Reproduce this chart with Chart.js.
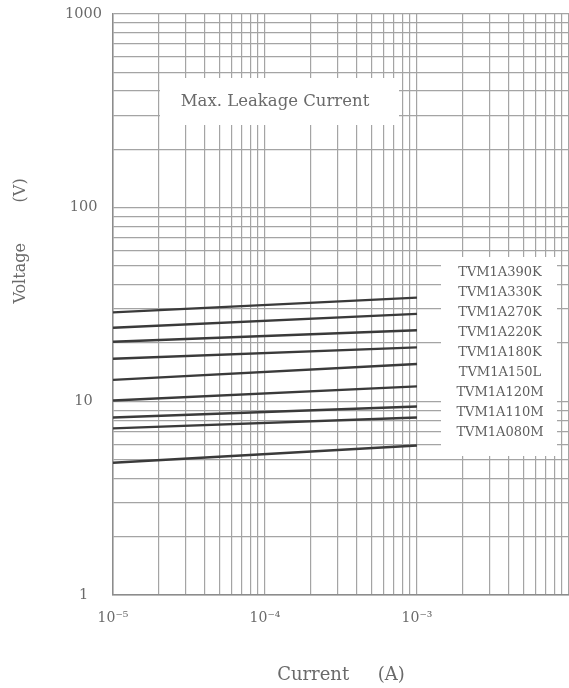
<!DOCTYPE html>
<html><head><meta charset="utf-8">
<script src="https://cdn.jsdelivr.net/npm/chart.js@4.4.0/dist/chart.umd.min.js"></script>
<style>html,body{margin:0;padding:0;background:#fff;overflow:hidden}</style>
</head><body>
<canvas id="c" width="569" height="688" style="display:block;width:569px;height:688px"></canvas>
<script>
// ---- data ----
const seriesNames = ['TVM1A390K','TVM1A330K','TVM1A270K','TVM1A220K','TVM1A180K','TVM1A150L','TVM1A120M','TVM1A110M','TVM1A080M'];
const currentA = [1e-5, 1e-3];          // x values (A) of each line's endpoints
const v390K = [28.8, 34.3];
const v330K = [24.0, 28.3];
const v270K = [20.3, 23.3];
const v220K = [16.6, 19.0];
const v180K = [12.9, 15.6];
const v150L = [10.1, 11.95];
const v120M = [8.25, 9.4];
const v110M = [7.25, 8.25];
const v080M = [4.82, 5.92];
const seriesValues = [v390K, v330K, v270K, v220K, v180K, v150L, v120M, v110M, v080M];
const xTickLabels = ['10\u207B\u2075', '10\u207B\u2074', '10\u207B\u00B3'];  // 1e-5, 1e-4, 1e-3
const xDecades = [1e-5, 1e-4, 1e-3];
const yTickLabels = ['1', '10', '100', '1000'];
const yDecades = [1, 10, 100, 1000];
const chartTitle = 'Max. Leakage Current';
const xTitle = 'Current     (A)';
const yTitle = 'Voltage        (V)';

function logTicks(minExp, maxExp) {
  const t = [];
  for (let e = minExp; e < maxExp; e++) {
    for (let m = 1; m <= 9; m++) t.push({value: m * Math.pow(10, e)});
  }
  t.push({value: Math.pow(10, maxExp)});
  return t;
}
function near(a, b) { return Math.abs(Math.log10(a) - Math.log10(b)) < 1e-6; }

const FONT = "'DejaVu Serif', 'Liberation Serif', serif";
const TEXT = '#6a6a6a';
const GRID = '#a4a4a4';

const datasets = seriesNames.map((name, i) => ({
  label: name,
  data: currentA.map((x, j) => ({x: x, y: seriesValues[i][j]})),
  showLine: true,
  borderColor: '#3a3a3a',
  borderWidth: 2.4,
  pointRadius: 0,
  fill: false
}));

const overlay = {
  id: 'overlay',
  beforeDatasetsDraw(chart) {
    const ctx = chart.ctx;
    ctx.save();
    ctx.fillStyle = '#ffffff';
    ctx.fillRect(160, 78, 239, 47);
    ctx.fillRect(441, 257, 116, 199);
    ctx.restore();
  },
  afterDatasetsDraw(chart) {
    const ctx = chart.ctx;
    ctx.save();
    ctx.fillStyle = TEXT;
    ctx.textAlign = 'center';
    ctx.textBaseline = 'middle';
    ctx.font = '16.5px ' + FONT;
    ctx.fillText(chartTitle, 275, 102);
    ctx.font = '13px ' + FONT;
    ctx.fillStyle = '#5e5e5e';
    seriesNames.forEach((n, i) => ctx.fillText(n, 500, 273 + 20 * i));
    // y axis title
    ctx.fillStyle = TEXT;
    ctx.font = '16px ' + FONT;
    ctx.translate(21, 241);
    ctx.rotate(-Math.PI / 2);
    ctx.fillText(yTitle, 0, 0);
    ctx.restore();
  }
};

new Chart(document.getElementById('c'), {
  type: 'scatter',
  data: {datasets},
  options: {
    responsive: false,
    animation: false,
    devicePixelRatio: 1,
    layout: {padding: {top: 14, right: 0, bottom: 0, left: 0}},
    plugins: {legend: {display: false}, tooltip: {enabled: false}},
    scales: {
      x: {
        type: 'logarithmic',
        min: 1e-5, max: 1e-2,
        afterBuildTicks: s => { s.ticks = logTicks(-5, -2); },
        afterFit: s => { s.height = 93; s.paddingLeft = 0; s.paddingRight = 0; },
        grid: {color: GRID, lineWidth: 1.2, drawTicks: false},
        border: {color: '#8c8c8c', width: 1.5},
        ticks: {
          autoSkip: false, maxRotation: 0, padding: 15,
          color: TEXT, font: {family: FONT, size: 14},
          callback: (v) => { const k = xDecades.findIndex(d => near(d, v)); return k >= 0 ? xTickLabels[k] : ''; }
        },
        title: {display: true, text: xTitle, color: TEXT, font: {family: FONT, size: 18}, padding: {top: 0, bottom: 2}, align: 'center'}
      },
      y: {
        type: 'logarithmic',
        min: 1, max: 1000,
        afterBuildTicks: s => { s.ticks = logTicks(0, 3); },
        afterFit: s => { s.width = 113; s.paddingTop = 0; s.paddingBottom = 0; },
        grid: {color: GRID, lineWidth: 1.2, drawTicks: false},
        border: {color: '#8c8c8c', width: 1.5},
        ticks: {
          autoSkip: false, padding: 11, crossAlign: 'center',
          color: TEXT, font: {family: FONT, size: 14.5},
          callback: (v) => { const k = yDecades.findIndex(d => near(d, v)); return k >= 0 ? yTickLabels[k] : ''; }
        }
      }
    }
  },
  plugins: [overlay]
});
</script>
</body></html>
